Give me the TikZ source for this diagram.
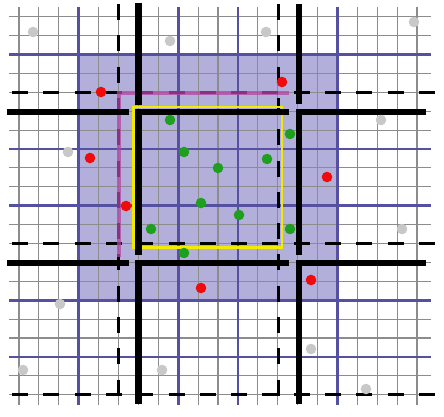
\documentclass[tikz,border=0pt]{standalone}
\usepackage{tikz}
\definecolor{shadecol}{RGB}{178,175,218}
\definecolor{bluecol}{RGB}{85,80,160}
\definecolor{gridcol}{RGB}{140,140,140}
\definecolor{graydot}{RGB}{200,200,200}
\definecolor{reddot}{RGB}{240,10,10}
\definecolor{greendot}{RGB}{30,160,30}
\definecolor{yelcol}{RGB}{240,235,0}
\definecolor{magcol}{RGB}{180,70,165}
\tikzset{
  gridline/.style={draw=gridcol, line width=1.1pt},
  blueline/.style={draw=bluecol, line width=2.8pt},
  dashline/.style={draw=black, line width=3pt, dash pattern=on 16pt off 15.3pt},
  thickline/.style={draw=black, line width=6.5pt, line join=miter},
  magline/.style={draw=magcol, line width=4pt, opacity=0.75},
  yelbox/.style={draw=yelcol, line width=2.2pt},
  dotbase/.style={circle, inner sep=0pt, minimum size=10.6pt},
  dotgray/.style={dotbase, fill=graydot},
  dotred/.style={dotbase, fill=reddot},
  dotgreen/.style={dotbase, fill=greendot}
}
\begin{document}
\begin{tikzpicture}[x=1pt,y=-1pt]
\useasboundingbox (0,0) rectangle (444,417);
\fill[white] (0,0) rectangle (444,417);
% shaded region
\fill[shadecol] (78.7,54.5) rectangle (337.4,300.2);
% thin grid
\foreach \i in {0,...,20}{
  \pgfmathsetmacro{\xx}{19+19.9*\i}
  \draw[gridline] (\xx,7) -- (\xx,405);
  \pgfmathsetmacro{\yy}{16.7+18.9*\i}
  \draw[gridline] (9,\yy) -- (431,\yy);
}
% blue lines
\foreach \i in {3,8,11,16}{
  \pgfmathsetmacro{\xx}{19+19.9*\i}
  \draw[blueline] (\xx,7) -- (\xx,405);
}
\foreach \j in {2,7,10,15,18}{
  \pgfmathsetmacro{\yy}{16.7+18.9*\j}
  \draw[blueline] (9,\yy) -- (431,\yy);
}
% dashed lines
\draw[dashline] (118.5,4) -- (118.5,400);
\draw[dashline] (278,4) -- (278,400);
\draw[dashline] (12,92.8) -- (435,92.8);
\draw[dashline] (12,243.8) -- (435,243.8);
\draw[dashline] (12,394.7) -- (435,394.7);
% magenta overlay
\draw[magline] (289,92.8) -- (118.5,92.8) -- (118.5,257);
% yellow box
\draw[yelbox] (133.5,107) rectangle (282,247.5);
% thick lines
\draw[thickline] (7,112) -- (129,112);
\draw[thickline] (7,263) -- (129,263);
\draw[thickline] (138.5,3) -- (138.5,105);
\draw[thickline] (299,4) -- (299,104);
\draw[thickline] (289,112) -- (138.5,112) -- (138.5,255);
\draw[thickline] (426,112) -- (299,112) -- (299,255);
\draw[thickline] (289,263) -- (138.5,263) -- (138.5,404);
\draw[thickline] (426,263) -- (299,263) -- (299,404);
% gray dots
\node[dotgray] (g1) at (33,32) {};
\node[dotgray] (g2) at (170,41) {};
\node[dotgray] (g3) at (266,32) {};
\node[dotgray] (g4) at (414,22) {};
\node[dotgray] (g5) at (381,120) {};
\node[dotgray] (g6) at (68,152) {};
\node[dotgray] (g7) at (60,304) {};
\node[dotgray] (g8) at (23,370) {};
\node[dotgray] (g9) at (162,370) {};
\node[dotgray] (g10) at (402,229) {};
\node[dotgray] (g11) at (311,349) {};
\node[dotgray] (g12) at (366,389) {};
% red dots
\node[dotred] (r1) at (101,92) {};
\node[dotred] (r2) at (282,82) {};
\node[dotred] (r3) at (90,158) {};
\node[dotred] (r4) at (327,177) {};
\node[dotred] (r5) at (126,206) {};
\node[dotred] (r6) at (201,288) {};
\node[dotred] (r7) at (311,280) {};
% green dots
\node[dotgreen] (n1) at (170,120) {};
\node[dotgreen] (n2) at (290,134) {};
\node[dotgreen] (n3) at (184,152) {};
\node[dotgreen] (n4) at (267,159) {};
\node[dotgreen] (n5) at (218,168) {};
\node[dotgreen] (n6) at (201,203) {};
\node[dotgreen] (n7) at (239,215) {};
\node[dotgreen] (n8) at (151,229) {};
\node[dotgreen] (n9) at (290,229) {};
\node[dotgreen] (n10) at (184,253) {};
\end{tikzpicture}
\end{document}
